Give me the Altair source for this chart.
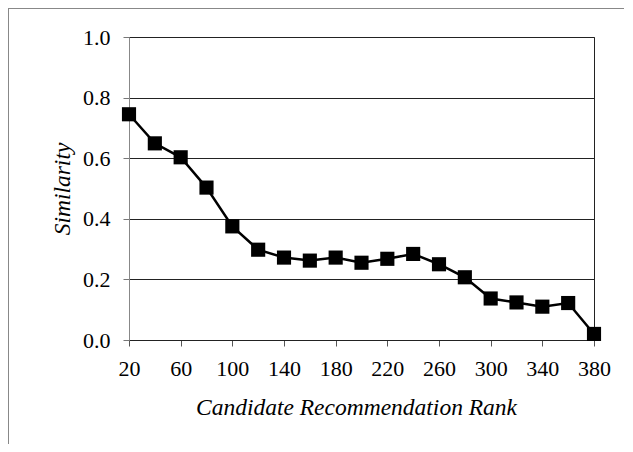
import altair as alt
import pandas as pd

ranks = [20, 40, 60, 80, 100, 120, 140, 160, 180, 200, 220, 240, 260, 280, 300, 320, 340, 360, 380]
similarity = [0.745, 0.649, 0.603, 0.503, 0.375, 0.298, 0.272, 0.262, 0.272, 0.255,
              0.268, 0.284, 0.250, 0.207, 0.137, 0.124, 0.110, 0.122, 0.020]
x_ticks = list(range(20, 381, 20))
y_ticks = [0.0, 0.2, 0.4, 0.6, 0.8, 1.0]

df = pd.DataFrame({"rank": ranks, "sim": similarity})
FONT = "Liberation Serif"

x = alt.X("rank:Q", scale=alt.Scale(domain=[20, 380], nice=False, zero=False),
          axis=alt.Axis(values=x_ticks, title="Candidate Recommendation Rank",
                        labelExpr="datum.value % 40 == 20 ? datum.label : ''",
                        grid=False, tickSize=6, tickColor="#555", domainColor="#222",
                        labelFontSize=22, labelColor="black", labelPadding=12,
                        labelFlush=False, labelOverlap=False,
                        titleFontSize=23.5, titleFontStyle="italic",
                        titleFontWeight="normal", titleColor="black", titlePadding=16,
                        titleX=227))
y = alt.Y("sim:Q", scale=alt.Scale(domain=[0, 1], nice=False),
          axis=alt.Axis(values=y_ticks, format=".1f", title="Similarity",
                        grid=True, gridColor="#222", gridWidth=1,
                        tickSize=6, tickColor="#777", domainColor="#888",
                        labelFontSize=22, labelColor="black", labelPadding=13,
                        titleFontSize=23.5, titleFontStyle="italic",
                        titleFontWeight="normal", titleColor="black", titlePadding=8))

line = alt.Chart(df).mark_line(color="black", strokeWidth=2.5).encode(x=x, y=y)
pts = alt.Chart(df).mark_point(shape="square", filled=True, color="black", size=200,
                               opacity=1).encode(x="rank:Q", y="sim:Q")

frame_left = alt.Chart(df).mark_rule(color="#888", strokeWidth=1, clip=False).encode(
    x=alt.value(-120.5), y=alt.value(-28.5), y2=alt.value(430))
frame_top = alt.Chart(df).mark_rule(color="#888", strokeWidth=1, clip=False).encode(
    x=alt.value(-120.5), x2=alt.value(520), y=alt.value(-28.5))

chart = alt.layer(frame_left, frame_top, line, pts).properties(
    width=465, height=303,
    autosize=alt.AutoSizeParams(type="none"),
    padding={"left": 121, "top": 29, "right": 30, "bottom": 104},
).configure(background="white", font=FONT).configure_view(
    stroke="#222", strokeWidth=1
).configure_axis(labelFont=FONT, titleFont=FONT)

chart.save("out.html", embed_options={"renderer": "svg", "actions": False})
